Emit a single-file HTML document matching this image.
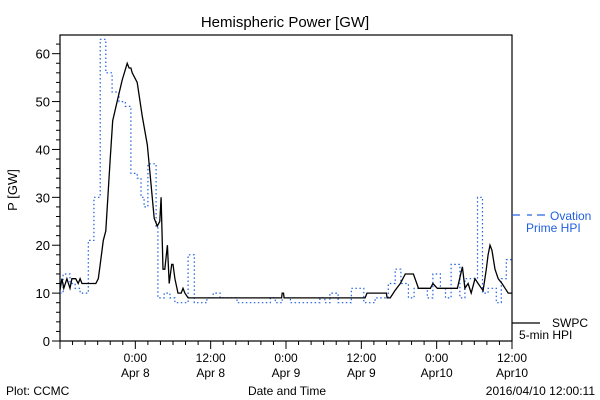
<!DOCTYPE html>
<html><head><meta charset="utf-8"><style>
body{margin:0;background:#fff;}
svg{display:block;font-family:"Liberation Sans",sans-serif;}
</style></head><body>
<svg id="c" width="600" height="400">
<text x="285" y="27" font-size="15" text-anchor="middle">Hemispheric Power [GW]</text>
<text transform="translate(17,190) rotate(-90)" font-size="13" text-anchor="middle">P [GW]</text>
<text x="287" y="395" font-size="12" text-anchor="middle">Date and Time</text>
<text x="6" y="395" font-size="12">Plot: CCMC</text>
<text x="595" y="395" font-size="12" text-anchor="end">2016/04/10 12:00:11</text>
<g id="axes"></g>
<g id="series"></g>
<g>
<line x1="512" y1="215" x2="520" y2="215" stroke="#1f5fe0" stroke-width="1.2"/>
<line x1="527" y1="215" x2="532" y2="215" stroke="#1f5fe0" stroke-width="1.2"/>
<line x1="537" y1="215" x2="545" y2="215" stroke="#1f5fe0" stroke-width="1.2"/>
<text x="550" y="220" font-size="12" fill="#1f5fe0">Ovation</text>
<text x="526" y="232" font-size="12" fill="#1f5fe0">Prime HPI</text>
<line x1="512" y1="323" x2="540" y2="323" stroke="#000" stroke-width="1.2"/>
<text x="552" y="327" font-size="12">SWPC</text>
<text x="519" y="339" font-size="12">5-min HPI</text>
</g>
</svg>
<script>
const xTickLabels = ["0:00","12:00","0:00","12:00","0:00","12:00"];
const xDateLabels = ["Apr 8","Apr 8","Apr 9","Apr 9","Apr10","Apr10"];
const yTicks = [0,10,20,30,40,50,60];
// Ovation step series: hours since Apr7 12:00, value
const ovHours = [0,0.5,1.6,2.4,3.2,4.5,5.4,6.4,7.3,8.3,9.4,10.4,11.3,12.3,12.9,13.4,14.0,15.3,15.6,16.6,17.5,18.3,20.4,21.4,23.4,24.4,25.5,28.2,33.5,34.3,35.4,36.7,41.4,42.2,43.0,44.3,46.4,48.4,50.2,52.3,53.4,54.3,55.5,56.4,58.5,59.4,60.6,61.4,62.3,63.7,64.5,66.5,67.3,68.2,69.5,70.3,71.1];
const ovVals  = [10,14,12,11,10,21,30,63,56,52,50,49,35,34,30,28,37,24,9,10,9,8,18,8,9,10,9,8,9,8,9,8,9,8,10,8,11,8,9,12,15,12,9,11,9,14,11,9,16,9,13,30,10,11,8,13,17];
// SWPC line series
const swHours = [0,0.3,0.6,1.1,1.6,1.9,2.5,2.9,3.2,3.5,5.7,6.1,6.4,6.9,7.3,8.0,8.4,9.1,9.9,10.7,11.0,11.3,11.5,12.3,13.1,13.9,14.3,15.0,15.5,15.9,16.1,16.4,16.7,17.1,17.4,17.8,18.0,18.3,18.8,19.3,19.6,19.9,20.4,35.3,35.4,35.6,35.7,48.6,48.9,52.0,52.1,52.6,52.9,53.4,54.2,55.0,56.3,57.1,59.0,59.4,60.1,63.3,64.1,64.5,65.0,65.5,66.1,66.6,67.4,67.9,68.2,68.5,68.8,69.3,69.8,70.4,70.9,71.4,72];
const swVals  = [10.6,13,11,13,11,13,13,12,13,12,12,13,16,21,23,38,46,50,54.5,58,57,57,56,54,47,41,35.5,25.6,24,25,30,15,15,20,12,16,16,13,10,10,11,10,9,9,10,10,9,9,10,10,9,9,9.6,10.6,12,14,14,11,11,12,11,11,15.5,11,12,10,13,12,10.5,15,18,20,19,15,13,12,11,10,10];

const L=60,R=512,T=35,B=341;
const xs=h=>L+(R-L)*h/72;
const ys=v=>B-(B-T)*v/63.9;
const NS="http://www.w3.org/2000/svg";
function mk(tag,at,parent){const e=document.createElementNS(NS,tag);for(const k in at)e.setAttribute(k,at[k]);parent.appendChild(e);return e;}
const ax=document.getElementById('axes');
const frame=mk('rect',{x:L,y:T,width:R-L,height:B-T,fill:'none',stroke:'#000','stroke-width':1.2},ax);


for(let v=0;v<=62;v+=2){
  const major=v%10===0;
  const t=mk('line',{x1:L-(major?8:4),x2:L,y1:ys(v),y2:ys(v),stroke:'#000'},ax);
  
  
}
yTicks.forEach(v=>{
  const t=mk('text',{x:L-10,y:ys(v)+5,'font-size':13,'text-anchor':'end'},ax);t.textContent=v;
  
  
});
for(let h=0;h<=72;h+=2){
  const major=h%12===0 && h>0 && h<72 || h===72;
  const t=mk('line',{x1:xs(h),x2:xs(h),y1:B,y2:B+(h%12===0?8:4),stroke:'#000'},ax);
  
  
}
xTickLabels.forEach((s,i)=>{
  const x=xs(12*(i+1));
  const a=mk('text',{x:x,y:362,'font-size':12,'text-anchor':'middle'},ax);a.textContent=s;
  
  
  const b=mk('text',{x:x,y:377,'font-size':12,'text-anchor':'middle'},ax);b.textContent=xDateLabels[i];
  
  
});
const sg=document.getElementById('series');
let d='';
ovHours.forEach((h,i)=>{const end=i+1<ovHours.length?ovHours[i+1]:72;
  d+=(i===0?'M':'L')+xs(h).toFixed(1)+','+ys(ovVals[i]).toFixed(1)+'L'+xs(end).toFixed(1)+','+ys(ovVals[i]).toFixed(1);});
const ov=mk('path',{d:d,fill:'none',stroke:'#1f5fe0','stroke-width':1.2,'stroke-dasharray':'1.5,2.5'},sg);


let d2='';
swHours.forEach((h,i)=>{d2+=(i===0?'M':'L')+xs(h).toFixed(1)+','+ys(swVals[i]).toFixed(1);});
const sw=mk('path',{d:d2,fill:'none',stroke:'#000','stroke-width':1.3},sg);


</script>
</body></html>
